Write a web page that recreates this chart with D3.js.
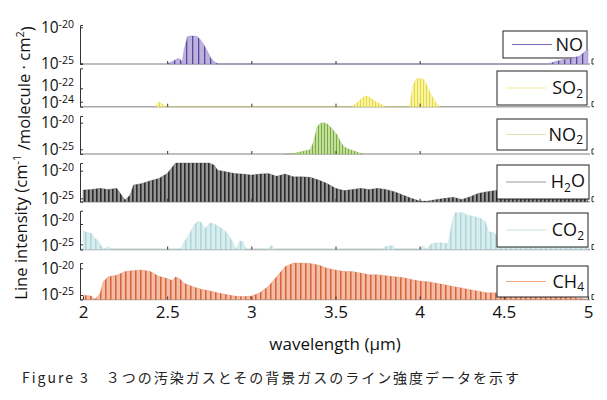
<!DOCTYPE html>
<html><head><meta charset="utf-8">
<script src="https://cdn.jsdelivr.net/npm/d3@7/dist/d3.min.js"></script>
<style>body{margin:0;background:#fff} svg{display:block}</style>
</head><body>
<svg id="c" width="607" height="400"></svg>
<script>
// ---------- data (wavelength in µm, log10 line intensity) ----------
const xTickValues = [2, 2.5, 3, 3.5, 4, 4.5, 5];
const gasNames = ["NO", "SO2", "NO2", "H2O", "CO2", "CH4"];

const NO_wl   = [2.50,2.55,2.57,2.59,2.60,2.62,2.64,2.66,2.68,2.70,2.72,2.74,2.76,2.78,2.80, 4.76,4.80,4.85,4.90,4.95,4.98,5.00];
const NO_logS = [-26,-24.5,-24.3,-24.8,-23.2,-21.3,-21.2,-21.2,-21.3,-21.8,-22.5,-23.4,-24.3,-24.8,-26, -26,-24.8,-24.5,-24.3,-24.0,-23.4,-23.0];

const SO2_wl   = [2.43,2.45,2.47,2.49, 3.60,3.62,3.66,3.68,3.70,3.74,3.78,3.80, 3.94,3.96,3.98,4.00,4.02,4.04,4.06,4.08,4.10,4.12];
const SO2_logS = [-26,-24.0,-24.3,-26, -26,-24.3,-23.4,-23.1,-23.3,-24.0,-24.5,-26, -26,-21.5,-20.6,-20.5,-20.6,-21.4,-22.6,-23.4,-24.3,-26];

const NO2_wl   = [3.20,3.25,3.30,3.35,3.37,3.39,3.41,3.43,3.45,3.47,3.49,3.51,3.53,3.55,3.58,3.62,3.66];
const NO2_logS = [-26,-25.8,-25.4,-25.1,-23.6,-20.8,-20.1,-20.0,-20.2,-20.8,-21.5,-22.3,-23.6,-24.5,-25.0,-25.4,-26];

const H2O_wl   = [2.00,2.05,2.10,2.15,2.20,2.25,2.28,2.30,2.35,2.40,2.45,2.50,2.55,2.60,2.65,2.70,2.75,2.78,2.80,2.85,2.90,2.95,3.00,3.05,3.10,3.15,3.20,3.25,3.30,3.35,3.40,3.45,3.50,3.55,3.60,3.65,3.70,3.75,3.80,3.85,3.90,3.95,4.00,4.05,4.10,4.15,4.20,4.25,4.30,4.35,4.40,4.45,4.50,4.60,4.70,4.80,4.90,4.97,5.00];
const H2O_logS = [-23.5,-23.4,-23.2,-23.4,-23.2,-25.3,-24.4,-22.6,-22.3,-21.8,-21.4,-20.5,-18.6,-18.6,-18.6,-18.6,-18.6,-19.0,-19.9,-20.2,-20.5,-20.6,-20.8,-20.6,-20.5,-21.0,-20.6,-21.1,-21.1,-21.2,-21.7,-22.3,-23.2,-23.6,-23.4,-23.2,-23.4,-23.2,-23.4,-23.8,-24.4,-25.0,-25.5,-25.5,-25.2,-25.0,-24.8,-25.2,-24.7,-24.1,-23.8,-23.6,-23.5,-23.5,-23.5,-23.5,-23.5,-23.5,-19.5];

const CO2_wl   = [2.00,2.02,2.05,2.07,2.09,2.11,2.13,2.15,2.17, 2.58,2.60,2.63,2.66,2.68,2.70,2.725,2.755,2.78,2.81,2.85,2.89,2.91,2.93,2.95,2.97, 3.10,3.12,3.14, 3.78,3.80,3.84,3.86, 4.00,4.02,4.04,4.07,4.12,4.17,4.19,4.21,4.26,4.28,4.32,4.36,4.39,4.41,4.44,4.50,4.60,4.70,4.80,4.90,5.00];
const CO2_logS = [-21.5,-22.1,-22.3,-23.5,-24.1,-25.5,-27,-25.5,-27, -27,-24.5,-22.5,-20.2,-19.4,-19.5,-21.1,-19.7,-20.0,-20.7,-21.9,-24.4,-27,-24.1,-24.3,-27, -27,-25.2,-27, -27,-25.5,-25.3,-27, -27,-25.3,-27,-24.8,-24.6,-24.8,-19.8,-17.2,-17.2,-17.8,-18.1,-18.6,-19.4,-21.9,-22.1,-24.5,-24.8,-24.8,-24.9,-25.0,-25.2];

const CH4_wl   = [2.00,2.02,2.05,2.07,2.10,2.12,2.15,2.20,2.25,2.30,2.35,2.40,2.45,2.50,2.53,2.55,2.58,2.60,2.65,2.70,2.75,2.80,2.85,2.90,2.95,3.00,3.05,3.10,3.15,3.20,3.25,3.30,3.35,3.40,3.45,3.50,3.55,3.60,3.65,3.70,3.75,3.80,3.85,3.90,3.95,4.00,4.05,4.10,4.15,4.20,4.25,4.30,4.35,4.40,4.45,4.50,4.60,4.70,4.80,4.90,5.00];
const CH4_logS = [-25.0,-25.1,-25.2,-25.9,-24.8,-22.5,-21.6,-21.3,-20.6,-20.4,-20.3,-20.6,-21.5,-21.9,-22.3,-21.6,-22.1,-22.8,-23.4,-23.9,-24.2,-24.6,-24.9,-25.2,-25.3,-25.2,-24.6,-23.4,-21.6,-19.7,-18.95,-18.95,-19.1,-19.4,-20.0,-20.3,-20.6,-20.6,-20.9,-21.2,-21.2,-21.4,-21.6,-21.7,-22.1,-22.4,-22.5,-22.8,-23.1,-23.4,-23.7,-24.0,-24.3,-24.6,-24.6,-25.0,-25.1,-25.2,-25.3,-25.4,-25.9];

const yTickExps = {NO:[-20,-25], SO2:[-22,-24], NO2:[-20,-25], H2O:[-20,-25], CO2:[-20,-25], CH4:[-20,-25]};

// ---------- layout / style ----------
const series = {
  NO:  {wl:NO_wl,  s:NO_logS,  sub:null},
  SO2: {wl:SO2_wl, s:SO2_logS, sub:"2"},
  NO2: {wl:NO2_wl, s:NO2_logS, sub:"2"},
  H2O: {wl:H2O_wl, s:H2O_logS, sub:"2"},
  CO2: {wl:CO2_wl, s:CO2_logS, sub:"2"},
  CH4: {wl:CH4_wl, s:CH4_logS, sub:"4"}
};
const layout = {
  NO:  {top:25,    base:64,    y1:27.3,  y2:63.3,  box:[503,31,84,27], lab:[0,0]},
  SO2: {top:68.3,  base:106.7, y1:88.3,  y2:101.7, box:[497,71,90,34], lab:[-3,1]},
  NO2: {top:116,   base:154,   y1:122.7, y2:149.3, box:[497,119,90,31], lab:[0,0]},
  H2O: {top:163,   base:201.7, y1:170.7, y2:198.3, box:[497,165,92,34], lab:[0,0]},
  CO2: {top:210.7, base:249.5, y1:224,   y2:244.3, box:[497,213,91,34], lab:[-3,1]},
  CH4: {top:263,   base:299.5, y1:268.3, y2:295,   box:[497,266,91,31], lab:[0,0]}
};
const style = {
  NO:  {fill:"#bdb2de", stripe:"#5a479e", w:6, sw:1.3, leg:"#7b6bb8"},
  SO2: {fill:"#f8f3a6", stripe:"#e4da3c", w:3, sw:1.0, leg:"#f3eea0"},
  NO2: {fill:"#c4dea0", stripe:"#78ad3e", w:3, sw:1.0, leg:"#dde4ae"},
  H2O: {fill:"#959595", stripe:"#2a2a2a", w:4, sw:1.6, leg:"#9a9a9a"},
  CO2: {fill:"#d8eded", stripe:"#afd6d9", w:5, sw:1.5, leg:"#c4e2e2"},
  CH4: {fill:"#f3bca4", stripe:"#d8623a", w:5, sw:1.5, leg:"#f0a888"}
};
const FONT = "'Open Sans', 'Noto Sans', sans-serif";

const svg = d3.select("#c");
const defs = svg.append("defs");
const x = d3.scaleLinear().domain([2, 5]).range([83, 588]);

gasNames.forEach(g => {
  const st = style[g];
  const p = defs.append("pattern").attr("id", "p-" + g)
    .attr("patternUnits", "userSpaceOnUse").attr("width", st.w).attr("height", 10);
  p.append("rect").attr("width", st.w).attr("height", 10).attr("fill", st.fill);
  p.append("rect").attr("width", st.sw).attr("height", 10).attr("fill", st.stripe);
});

gasNames.forEach(g => {
  const L = layout[g], st = style[g], S = series[g];
  const [e1, e2] = yTickExps[g];
  const ppd = (L.y2 - L.y1) / (e1 - e2);
  const eBase = e2 - (L.base - L.y2) / ppd;
  const eTop = e1 + (L.y1 - L.top) / ppd;
  const y = d3.scaleLog().domain([Math.pow(10, eBase), Math.pow(10, eTop)])
    .range([L.base, L.top]).clamp(true);
  const data = S.wl.map((w, i) => ({w, v: Math.pow(10, S.s[i])}));
  const panel = svg.append("g");

  // baseline
  panel.append("line").attr("x1", 80).attr("x2", 590)
    .attr("y1", L.base).attr("y2", L.base)
    .attr("stroke", "#a8a8a8").attr("stroke-width", 1.4);

  const drawData = () => {
    panel.append("path").datum(data)
      .attr("d", d3.area().x(d => x(d.w)).y0(L.base).y1(d => y(d.v)))
      .attr("fill", `url(#p-${g})`).attr("stroke", st.stripe)
      .attr("stroke-width", 0.5).attr("stroke-opacity", 0.5);
  };
  if (g !== "NO") drawData();

  // small x ticks in each panel
  const xa = panel.append("g").attr("transform", `translate(0,${L.base})`)
    .call(d3.axisBottom(x).tickValues(g === "CH4" ? xTickValues : [2.5, 3, 3.5, 4])
      .tickSize(-3).tickPadding(6).tickFormat(g === "CH4" ? d3.format("") : () => ""));
  xa.select(".domain").remove();
  xa.selectAll(".tick line").attr("stroke", "#333");
  xa.selectAll("text").attr("font-family", FONT).attr("font-size", 17).attr("fill", "#111");

  // left axis
  const ya = panel.append("g").attr("transform", "translate(80,0)")
    .call(d3.axisLeft(y).tickValues([Math.pow(10, e1), Math.pow(10, e2)])
      .tickSize(-3).tickSizeOuter(-3).tickPadding(6).tickFormat(() => ""));
  ya.select(".domain").attr("stroke", "#333");
  ya.selectAll(".tick line").attr("stroke", "#333");
  ya.selectAll(".tick text").each(function (d, i) {
    const t = d3.select(this).attr("font-family", FONT).attr("font-size", 15.5).attr("fill", "#111")
      .attr("transform", `translate(0,${L.lab[i]})`);
    t.text(null);
    t.append("tspan").text("10");
    t.append("tspan").attr("dy", "-0.5em").attr("font-size", 10.5).text(String(Math.round(Math.log10(d))));
  });

  // right end mark
  panel.append("path")
    .attr("d", `M594,${L.base - 5}H592V${L.base}H594`)
    .attr("fill", "none").attr("stroke", "#333").attr("stroke-width", 1);

  // legend
  const [bx, by, bw, bh] = L.box;
  panel.append("rect").attr("x", bx).attr("y", by).attr("width", bw).attr("height", bh)
    .attr("fill", "#fff").attr("stroke", "#222").attr("stroke-width", 1);
  const cy = by + bh / 2;
  panel.append("line").attr("x1", bx + 9).attr("x2", bx + 49).attr("y1", cy).attr("y2", cy)
    .attr("stroke", st.leg).attr("stroke-width", 1.2);
  const lt = panel.append("text").attr("x", bx + bw - 4).attr("y", cy).attr("dy", "0.35em")
    .attr("text-anchor", "end").attr("font-family", FONT).attr("font-size", 18).attr("fill", "#111");
  const base = S.sub ? g.replace(S.sub, "") : g;
  if (g === "H2O") {
    lt.append("tspan").text("H");
    lt.append("tspan").attr("font-size", 12).attr("dy", "0.3em").text("2");
    lt.append("tspan").attr("dy", "-0.3em").text("O");
  } else if (S.sub) {
    lt.append("tspan").text(base);
    lt.append("tspan").attr("font-size", 12).attr("dy", "0.3em").text(S.sub);
  } else {
    lt.text(g);
  }
  if (g === "NO") drawData();
});

// axis titles
svg.append("text").attr("x", 335).attr("y", 350).attr("text-anchor", "middle")
  .attr("font-family", FONT).attr("font-size", 17).attr("fill", "#111").text("wavelength (μm)");

const yt = svg.append("text").attr("transform", "translate(27,163) rotate(-90)")
  .attr("text-anchor", "middle").attr("font-family", FONT).attr("font-size", 16.6).attr("fill", "#111");
yt.append("tspan").text("Line intensity (cm");
yt.append("tspan").attr("font-size", 11).attr("dy", "-0.55em").text("-1");
yt.append("tspan").attr("dy", "0.55em").text(" /molecule · cm");
yt.append("tspan").attr("font-size", 11).attr("dy", "-0.55em").text("2");
yt.append("tspan").attr("dy", "0.55em").text(")");

// caption
svg.append("text").attr("x", 22).attr("y", 383)
  .attr("font-family", "'Noto Sans CJK JP', sans-serif").attr("font-size", 14).attr("fill", "#222")
  .attr("textLength", 497).attr("lengthAdjust", "spacing")
  .text("Figure 3　３つの汚染ガスとその背景ガスのライン強度データを示す");
</script>
</body></html>
